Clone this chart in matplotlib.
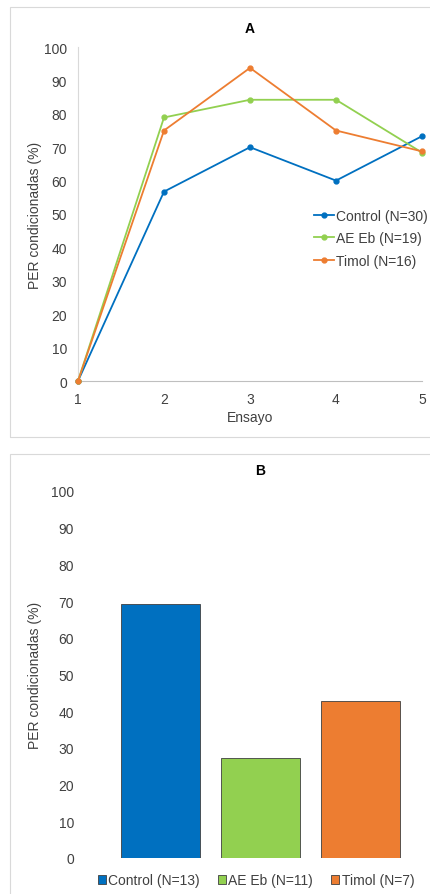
import numpy as np
import matplotlib
matplotlib.use('Agg')
import matplotlib.pyplot as plt
from matplotlib.patches import Rectangle

plt.rcParams['font.family'] = ['Liberation Sans', 'DejaVu Sans']

# Panel A data
ensayos = [1, 2, 3, 4, 5]
control_a = [0, 56.7, 70.0, 60.0, 73.3]
aeeb_a = [0, 78.9, 84.2, 84.2, 68.4]
timol_a = [0, 75.0, 93.75, 75.0, 68.75]
labels_a = ['Control (N=30)', 'AE Eb (N=19)', 'Timol (N=16)']

# Panel B data
labels_b = ['Control (N=13)', 'AE Eb (N=11)', 'Timol (N=7)']
values_b = [69.2, 27.3, 42.9]

c_blue = '#0070C0'
c_green = '#92D050'
c_orange = '#ED7D31'
c_text = '#404040'
fs = 10

W, H = 430, 895
fig = plt.figure(figsize=(W / 100, H / 100), dpi=100)

def fx(px):
    return px / W

def fy(py):
    return 1 - py / H

# panel frames
for top, bottom in [(8, 438), (455, 905)]:
    fig.patches.append(Rectangle((fx(10), fy(bottom)), fx(440) - fx(10), fy(top) - fy(bottom),
                                 transform=fig.transFigure, fill=False,
                                 edgecolor='#D9D9D9', linewidth=0.8))

# ---- Panel A ----
ax1 = fig.add_axes([fx(78), fy(382), fx(422) - fx(78), fy(48) - fy(382)])
series = [(control_a, c_blue), (aeeb_a, c_green), (timol_a, c_orange)]
for (vals, col), lab in zip(series, labels_a):
    ax1.plot(ensayos, vals, color=col, linewidth=1.3, marker='o', markersize=3.5,
             label=lab, clip_on=False, zorder=3)
ax1.set_xlim(1, 5)
ax1.set_ylim(0, 100)
ax1.set_yticks(np.arange(0, 101, 10))
ax1.set_xticks(ensayos)
for s in ['top', 'right']:
    ax1.spines[s].set_visible(False)
ax1.spines['left'].set_color('#D9D9D9')
ax1.spines['bottom'].set_color('#BFBFBF')
ax1.tick_params(length=0, labelsize=fs, colors=c_text, pad=8)
ax1.set_xlabel('Ensayo', fontsize=fs, color=c_text, labelpad=3)
ax1.set_ylabel('PER condicionadas (%)', fontsize=fs, color=c_text, labelpad=1)
ax1.set_title('A', fontsize=fs, fontweight='bold', color='#000000', pad=11)
ax1.legend(loc='upper right', bbox_to_anchor=(fx(428), fy(210)), bbox_transform=fig.transFigure,
           frameon=False, fontsize=fs, borderaxespad=0, borderpad=0,
           handlelength=1.45, handletextpad=0.15, labelspacing=0.6, labelcolor=c_text)

# ---- Panel B ----
ax2 = fig.add_axes([fx(110), fy(859), fx(410) - fx(110), fy(492) - fy(859)])
xb = np.arange(len(values_b))
cols_b = [c_blue, c_green, c_orange]
for i, (v, col, lab) in enumerate(zip(values_b, cols_b, labels_b)):
    ax2.bar(xb[i], v, width=0.79, color=col, edgecolor='#3F3F3F', linewidth=0.6, label=lab)
ax2.set_xlim(-0.5, 2.5)
ax2.set_ylim(0, 100)
ax2.set_yticks(np.arange(0, 101, 10))
ax2.set_xticks([])
for s in ['top', 'right', 'left', 'bottom']:
    ax2.spines[s].set_visible(False)
ax2.tick_params(length=0, labelsize=fs, colors=c_text, pad=26)
ax2.set_ylabel('PER condicionadas (%)', fontsize=fs, color=c_text, labelpad=6)
ax2.set_title('B', fontsize=fs, fontweight='bold', color='#000000', pad=12)
ax2.legend(loc='upper center', bbox_to_anchor=(fx(256), fy(874)), bbox_transform=fig.transFigure,
           ncol=3, frameon=False, fontsize=fs, borderaxespad=0, borderpad=0,
           handlelength=0.6, handleheight=0.6, handletextpad=0.15, columnspacing=1.3,
           labelcolor=c_text)

fig.savefig('out.png', dpi=100)
